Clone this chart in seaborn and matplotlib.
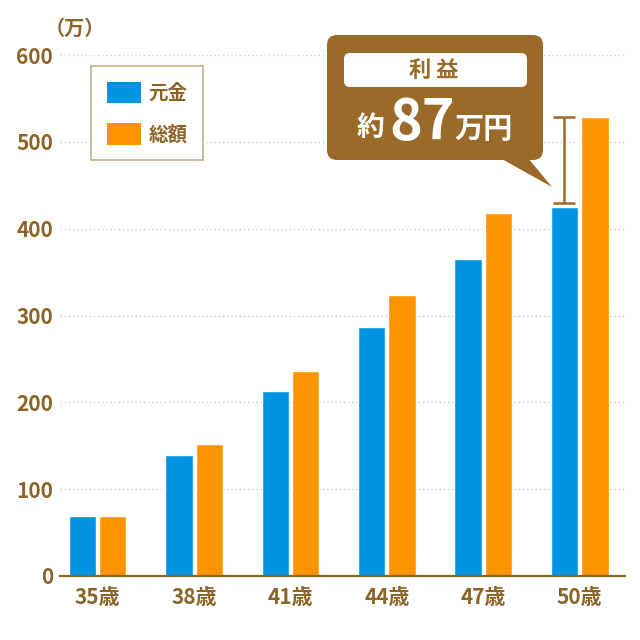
import matplotlib
matplotlib.use("Agg")
import matplotlib.pyplot as plt
import matplotlib.transforms as mtransforms
from matplotlib.patches import FancyBboxPatch, Polygon, Patch
import seaborn as sns
import pandas as pd

ages = ["35歳", "38歳", "41歳", "44歳", "47歳", "50歳"]
principal = [69, 139, 213, 287, 365, 425]
total = [69, 152, 236, 324, 418, 529]
series_names = ["元金", "総額"]
yticks = [0, 100, 200, 300, 400, 500, 600]
unit_label = "（万）"
bubble_title = "利 益"
bubble_pre = "約"
bubble_num = "87"
bubble_post = "万円"

BLUE = "#0094E0"
ORANGE = "#FF9300"
BROWN = "#8B6428"
BUBBLE = "#996A28"

sns.set_theme(style="white")
plt.rcParams["font.family"] = ["Noto Sans CJK JP", "DejaVu Sans"]
plt.rcParams["font.weight"] = "bold"

df = pd.DataFrame({
    "age": ages * 2,
    "value": principal + total,
    "series": [series_names[0]] * len(ages) + [series_names[1]] * len(ages),
})

fig = plt.figure(figsize=(6.4, 6.4), dpi=100)
ax = fig.add_axes([60 / 640, 64 / 640, 565 / 640, 521 / 640])

sns.barplot(data=df, x="age", y="value", hue="series",
            palette={series_names[0]: BLUE, series_names[1]: ORANGE},
            width=0.63, gap=0.1, ax=ax, legend=False, saturation=1)

ax.set_ylim(0, 600)
ax.set_xlim(-0.39, 5.47)
ax.set_yticks(yticks)
ax.set_xlabel("")
ax.set_ylabel("")
ax.set_axisbelow(True)
ax.yaxis.grid(True, linestyle=(0, (1, 2)), color="#CFCFCF", linewidth=1)
for s in ["top", "right", "left"]:
    ax.spines[s].set_visible(False)
ax.spines["bottom"].set_color(BROWN)
ax.spines["bottom"].set_linewidth(1.6)
ax.tick_params(axis="both", length=0, colors=BROWN, labelsize=15)
ax.tick_params(axis="y", pad=5)
ax.tick_params(axis="x", pad=8)
for lbl in ax.get_xticklabels() + ax.get_yticklabels():
    lbl.set_fontweight("bold")

# legend
handles = [Patch(facecolor=BLUE, edgecolor="none"), Patch(facecolor=ORANGE, edgecolor="none")]
leg = ax.legend(handles, series_names, loc="upper left",
                bbox_to_anchor=(91 / 640, 1 - 66 / 640), bbox_transform=fig.transFigure,
                frameon=True, fancybox=False, edgecolor="#C4AE8E", framealpha=1,
                prop={"size": 14, "weight": "bold"}, handlelength=1.75, handleheight=1.35,
                labelspacing=1.0, borderpad=0.8, handletextpad=0.4, borderaxespad=0)
leg.get_frame().set_linewidth(1.2)
for t in leg.get_texts():
    t.set_color(BROWN)

# pixel transform (origin top-left)
px = mtransforms.Affine2D().scale(1 / 640, -1 / 640).translate(0, 1) + fig.transFigure

fig.text(75, 28, unit_label, transform=px, ha="center", va="center",
         color=BROWN, fontsize=14.5, fontweight="bold")

# profit range marker
xb = 5 - 0.165
ax.errorbar([xb], [(principal[-1] + total[-1]) / 2],
            yerr=[[(total[-1] - principal[-1]) / 2 - 4], [(total[-1] - principal[-1]) / 2]],
            fmt="none", ecolor=BUBBLE, elinewidth=1.8, capsize=8, capthick=1.8, zorder=5)

# speech bubble
bub = FancyBboxPatch((335, 43), 200, 109, boxstyle="round,pad=8,rounding_size=10",
                     transform=px, facecolor=BUBBLE, edgecolor="none", zorder=10)
fig.patches.append(bub)
tail = Polygon([(500, 158), (528, 158), (552, 187)], closed=True, transform=px,
               facecolor=BUBBLE, edgecolor="none", zorder=10)
fig.patches.append(tail)
inner = FancyBboxPatch((349, 58), 173, 24, boxstyle="round,pad=5,rounding_size=6",
                       transform=px, facecolor="white", edgecolor="none", zorder=11)
fig.patches.append(inner)
fig.text(434, 70, bubble_title, transform=px, ha="center", va="center",
         color=BUBBLE, fontsize=16, fontweight="bold", zorder=12)
fig.text(370, 128, bubble_pre, transform=px, ha="center", va="center",
         color="white", fontsize=20, fontweight="bold", zorder=12)
fig.text(422, 123, bubble_num, transform=px, ha="center", va="center",
         color="white", fontsize=40, fontweight="bold", zorder=12)
fig.text(484, 129, bubble_post, transform=px, ha="center", va="center",
         color="white", fontsize=21, fontweight="bold", zorder=12)

fig.savefig("out.png", dpi=100, facecolor="white")
